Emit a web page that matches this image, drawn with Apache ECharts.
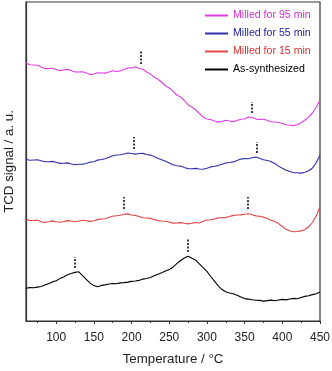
<!DOCTYPE html>
<html>
<head>
<meta charset="utf-8">
<script src="https://cdn.jsdelivr.net/npm/echarts@6/dist/echarts.min.js"></script>
<style>
  html, body { margin: 0; padding: 0; background: #fff; }
  #chart { width: 332px; height: 371px; }
</style>
</head>
<body>
<div id="chart"></div>
<script>
// temperatures (°C), one reading every 5 degrees
const temps = [60, 65, 70, 75, 80, 85, 90, 95, 100, 105, 110, 115, 120, 125, 130, 135, 140, 145, 150, 155,
  160, 165, 170, 175, 180, 185, 190, 195, 200, 205, 210, 215, 220, 225, 230, 235, 240, 245, 250, 255,
  260, 265, 270, 275, 280, 285, 290, 295, 300, 305, 310, 315, 320, 325, 330, 335, 340, 345, 350, 355,
  360, 365, 370, 375, 380, 385, 390, 395, 400, 405, 410, 415, 420, 425, 430, 435, 440, 445, 450]

// TCD signal, arbitrary units (curves are offset for clarity)
const milled95 = [258, 256.2, 256, 255.8, 254, 252.4, 252.5, 252.8, 251.5, 250.2, 251, 251.6, 250.5, 249.1, 249, 249.3, 248, 246.4, 247, 248.3,
  248, 247.9, 249, 250.2, 249.5, 250.1, 251.5, 253.1, 253, 254.2, 252.5, 251.8, 249, 246.9, 244, 241.8, 239, 235.2, 233, 229.8,
  226, 223.9, 220.5, 216.3, 214, 211.2, 207.5, 203.9, 202, 201.4, 200, 198.9, 199.5, 200.8, 200, 199.4, 200.5, 201.7, 202, 203.9,
  203.5, 201.9, 201.5, 201.9, 200.5, 199.2, 199, 198.8, 197.5, 196.2, 196, 195.4, 196.5, 198.3, 201, 204.1, 208, 213.5, 221]
const milled55 = [161.7, 160.8, 161, 161.2, 160.2, 159.2, 159.3, 159.6, 158.7, 157.6, 157.7, 158.1, 157, 156.2, 156.7, 156.9, 157.5, 158.9, 159.3, 160.9,
  161.5, 162.3, 163.7, 165.3, 166, 166.2, 167, 168, 167.5, 166.9, 167.5, 167.6, 166.5, 165.9, 164.5, 162.4, 161.2, 159.8, 158, 156.2,
  155.3, 154.9, 153.5, 152.4, 152.2, 152.6, 152, 151.8, 152.7, 154.1, 154.7, 155.4, 156.7, 158.1, 158.5, 159.1, 160.5, 161.9, 162.5, 162.3,
  163.2, 163.9, 162.7, 161.3, 160.5, 159.5, 157.5, 154.9, 152.7, 150.7, 149.5, 148.3, 148.3, 147.9, 148.7, 150.2, 153, 158.3, 166]
const milled15 = [101.7, 100.6, 100.5, 100.9, 99.3, 98.6, 99.3, 100.1, 99.3, 98.8, 99.5, 100.4, 100, 99.3, 100, 100.8, 100.2, 99.6, 100.3, 101.4,
  102, 102.3, 103.5, 104.9, 105.3, 105.8, 106.7, 107.1, 106, 105.6, 104.5, 103.2, 103, 102.6, 101.5, 100.4, 100, 99.8, 99, 97.9,
  98, 98.4, 97.7, 97.1, 97.7, 98.5, 98, 99.8, 101, 101.3, 102, 103.1, 103.3, 103.6, 104.5, 105.6, 106, 106.1, 106.7, 107.2,
  106.2, 105.1, 104.7, 103.9, 102.5, 100.7, 99.5, 97.4, 94.5, 91.8, 90, 89.2, 89.5, 90.1, 91.5, 94.2, 98.5, 104.9, 114.3]
const asSynth = [32.7, 33.4, 33.2, 33.9, 34.5, 35.9, 37.3, 39.1, 40.2, 42.4, 44.1, 46.2, 47.5, 48.6, 49.2, 45.3, 41.6, 37.9, 35.4, 34.2,
  35.6, 36.1, 37, 37.5, 37.2, 38.1, 38.4, 38.9, 39.6, 40, 40.6, 41.9, 42.5, 43.5, 45.2, 46.8, 48.3, 49.9, 51.4, 53.8,
  57.3, 60.5, 63, 64.8, 62.8, 60.9, 57.1, 53.4, 49.6, 44.5, 39.8, 35.1, 31.4, 29.3, 28, 27.2, 25.8, 23.9, 22.4, 21.9,
  21.2, 20.8, 20.6, 19.9, 20.4, 20.9, 20.3, 21, 21.6, 21.1, 22, 22.6, 22.3, 23.5, 24.6, 25.3, 26.4, 27.2, 29]

// peak markers: [temperature, low, high]
const peaks95 = [[212, 257, 270], [360, 208, 219]]
const peaks55 = [[203, 172, 184], [366, 168, 179]]
const peaks15 = [[190, 112, 124], [354, 112, 124]]
const peaksAs = [[125, 53, 64], [275, 69, 83]]

const names = ['Milled for 95 min', 'Milled for 55 min', 'Milled for 15 min', 'As-synthesized']
const colors = ['#e03ce0', '#2e2ea8', '#e04444', '#000000']
const textColors = ['#d42cd4', '#2222a0', '#d83030', '#000000']

const majorTicks = [100, 150, 200, 250, 300, 350, 400, 450]
const minorTicks = [75, 125, 175, 225, 275, 325, 375, 425]

const chart = echarts.init(document.getElementById('chart'))

function peakLines(peaks) {
  return peaks.map(p => [{ coord: [p[0], p[1]] }, { coord: [p[0], p[2]] }])
}

function makeSeries(i, values, peaks) {
  return {
    name: names[i],
    type: 'line',
    data: temps.map((t, k) => [t, values[k]]),
    showSymbol: false,
    symbol: 'none',
    lineStyle: { color: colors[i], width: 1.1 },
    itemStyle: { color: colors[i] },
    markLine: {
      silent: true,
      symbol: 'none',
      label: { show: false },
      lineStyle: { color: '#000', width: 1.5, type: [2, 1.5] },
      data: peakLines(peaks),
    },
  }
}

const option = {
  animation: false,
  grid: {
    left: 26, right: 12, top: 2, bottom: 50,
    outerBoundsMode: 'none',
    show: true, borderColor: '#333', borderWidth: 1.2,
  },
  legend: {
    orient: 'vertical',
    left: 200,
    top: 5,
    itemWidth: 23,
    itemHeight: 2,
    itemGap: 7,
    icon: 'rect',
    textStyle: { fontFamily: 'Liberation Sans', fontSize: 10.6 },
    data: names.map((n, i) => ({ name: n, itemStyle: { color: colors[i] }, textStyle: { color: textColors[i] } })),
  },
  xAxis: [
    {
      type: 'value',
      min: 60,
      max: 450,
      name: 'Temperature / °C',
      nameLocation: 'middle',
      nameGap: 32,
      nameTextStyle: { fontFamily: 'Liberation Sans', fontSize: 13.3, color: '#222' },
      axisLine: { show: true, lineStyle: { color: '#333', width: 1.2 } },
      axisTick: { show: true, length: 3, lineStyle: { color: '#333' }, customValues: majorTicks },
      axisLabel: { customValues: majorTicks, margin: 11, fontFamily: 'Liberation Sans', fontSize: 12, color: '#222' },
      splitLine: { show: false },
    },
    {
      type: 'value',
      min: 60,
      max: 450,
      position: 'bottom',
      axisLine: { show: false },
      axisTick: { show: true, length: 2, lineStyle: { color: '#333' }, customValues: minorTicks },
      axisLabel: { show: false },
      splitLine: { show: false },
    },
  ],
  yAxis: {
    type: 'value',
    min: 0,
    max: 319,
    name: 'TCD signal / a. u.',
    nameLocation: 'middle',
    nameGap: 10,
    nameTextStyle: { fontFamily: 'Liberation Sans', fontSize: 13.3, color: '#222' },
    axisLine: { show: true, lineStyle: { color: '#333', width: 1.2 } },
    axisTick: { show: false },
    axisLabel: { show: false },
    splitLine: { show: false },
  },
  series: [
    makeSeries(0, milled95, peaks95),
    makeSeries(1, milled55, peaks55),
    makeSeries(2, milled15, peaks15),
    makeSeries(3, asSynth, peaksAs),
  ],
}

chart.setOption(option)
</script>
</body>
</html>
